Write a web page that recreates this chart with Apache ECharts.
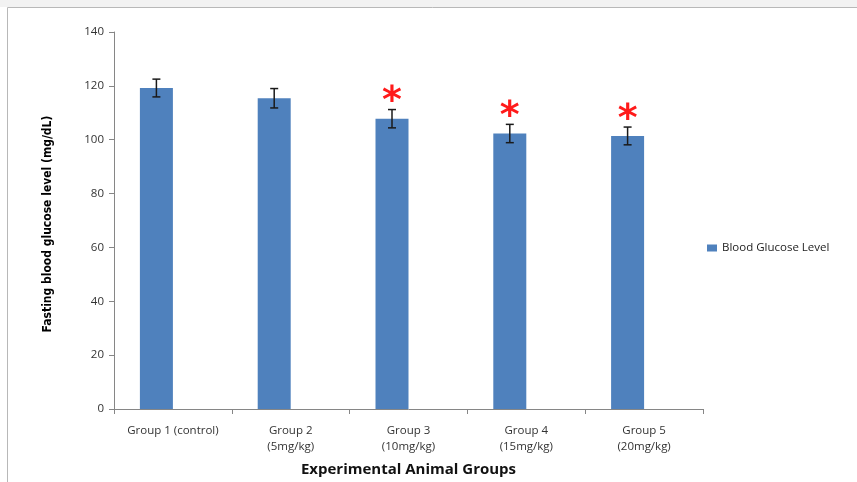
<!DOCTYPE html>
<html>
<head>
<meta charset="utf-8">
<script src="https://cdn.jsdelivr.net/npm/echarts@6/dist/echarts.min.js"></script>
<style>
  html, body { margin: 0; padding: 0; background: #fff; }
  #chart { width: 857px; height: 482px; }
</style>
</head>
<body>
<div id="chart"></div>
<script>
// values
const groups = ['Group 1 (control)', 'Group 2\n(5mg/kg)', 'Group 3\n(10mg/kg)', 'Group 4\n(15mg/kg)', 'Group 5\n(20mg/kg)']
const glucose = [119.2, 115.4, 107.8, 102.3, 101.4]
const glucoseErr = [3.3, 3.6, 3.4, 3.4, 3.3]
const significant = [false, false, true, true, true]
const yTicks = { min: 0, max: 140, interval: 20 }

const barWidth = 33

const chart = echarts.init(document.getElementById('chart'))

const errData = glucose.map((v, i) => [i, v, glucoseErr[i], significant[i] ? 1 : 0])

chart.setOption({
  animation: false,
  textStyle: { fontFamily: 'Open Sans, sans-serif' },
  graphic: [
    {
      type: 'rect',
      shape: { x: 0, y: 0, width: 857, height: 7 },
      style: { fill: '#f2f2f2' },
      silent: true
    },
    {
      type: 'rect',
      shape: { x: 7.5, y: 7.5, width: 900, height: 520 },
      style: { fill: 'none', stroke: '#b8b8b8', lineWidth: 1 },
      silent: true
    },
    {
      type: 'text',
      rotation: Math.PI / 2,
      x: 48, y: 224,
      style: {
        text: 'Fasting blood glucose level (mg/dL)',
        font: 'bold 12px "DejaVu Sans Condensed", "Liberation Sans Narrow", "Noto Sans", sans-serif',
        fill: '#000',
        textAlign: 'center',
        textVerticalAlign: 'middle'
      }
    }
  ],
  grid: { left: 114, right: 154, top: 32, bottom: 71 },
  legend: {
    data: ['Blood Glucose Level'],
    left: 702,
    top: 237,
    icon: 'rect',
    itemWidth: 10,
    itemHeight: 7,
    itemGap: 4,
    textStyle: { fontSize: 11.5, color: '#222', fontFamily: 'Open Sans, sans-serif' }
  },
  xAxis: {
    type: 'category',
    data: groups,
    name: 'Experimental Animal Groups',
    nameLocation: 'middle',
    nameGap: 53,
    nameTextStyle: { fontSize: 15, fontWeight: 'bold', color: '#111', fontFamily: 'Open Sans, sans-serif' },
    axisLine: { lineStyle: { color: '#868686' } },
    axisTick: { show: true, alignWithLabel: false, length: 5, lineStyle: { color: '#868686' } },
    axisLabel: { fontSize: 11.5, color: '#333', interval: 0, lineHeight: 16, margin: 14 }
  },
  yAxis: {
    type: 'value',
    min: yTicks.min,
    max: yTicks.max,
    interval: yTicks.interval,
    splitLine: { show: false },
    axisLine: { show: true, lineStyle: { color: '#868686' } },
    axisTick: { show: true, length: 5, lineStyle: { color: '#868686' } },
    axisLabel: { fontSize: 11.5, color: '#333', margin: 10 }
  },
  series: [
    {
      name: 'Blood Glucose Level',
      type: 'bar',
      data: glucose,
      barWidth: barWidth,
      barGap: '0%',
      itemStyle: { color: '#4f81bd' },
      z: 2
    },
    {
      name: 'empty',
      type: 'bar',
      data: glucose.map(() => null),
      barWidth: barWidth,
      barGap: '0%'
    },
    {
      name: 'error',
      type: 'custom',
      data: errData,
      z: 5,
      renderItem: (params, api) => {
        const i = api.value(0)
        const v = api.value(1)
        const e = api.value(2)
        const top = api.coord([i, v + e])
        const bot = api.coord([i, v - e])
        const x = top[0] - barWidth / 2
        const style = { stroke: '#1a1a1a', lineWidth: 1.5 }
        const children = [
          { type: 'line', shape: { x1: x, y1: top[1], x2: x, y2: bot[1] }, style },
          { type: 'line', shape: { x1: x - 4, y1: top[1], x2: x + 4, y2: top[1] }, style },
          { type: 'line', shape: { x1: x - 4, y1: bot[1], x2: x + 4, y2: bot[1] }, style }
        ]
        if (api.value(3)) {
          children.push({
            type: 'text',
            x: x,
            y: top[1] + 12,
            style: {
              text: '*',
              font: 'bold 38px "DejaVu Sans", sans-serif',
              fill: '#ff1a1a',
              textAlign: 'center',
              textVerticalAlign: 'bottom',
              shadowColor: 'rgba(0,0,0,0.35)',
              shadowBlur: 2,
              shadowOffsetX: 1,
              shadowOffsetY: 1
            }
          })
        }
        return { type: 'group', children }
      }
    }
  ]
})
</script>
</body>
</html>
